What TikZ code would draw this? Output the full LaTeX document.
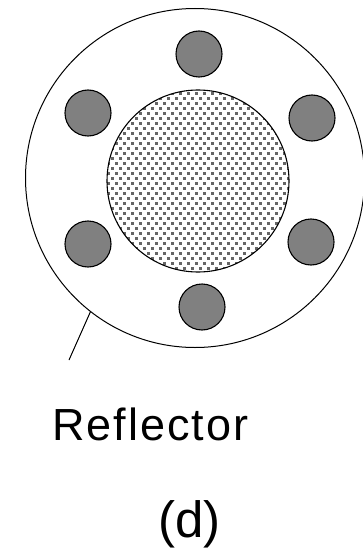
\documentclass[tikz,border=0pt]{standalone}
\usepackage{fontspec}
\setmainfont{Liberation Sans}
\newfontfamily\spacedfont[LetterSpace=4.5]{Liberation Sans}
\tikzset{
  rod/.style={circle,draw=black,fill=black!50,line width=1.1pt,minimum size=46pt,inner sep=0pt},
  ring/.style={circle,draw=black,line width=1pt,minimum size=339pt,inner sep=0pt},
  core/.style={circle,draw=black,line width=1.1pt,minimum size=182pt,inner sep=0pt},
  lbl/.style={inner sep=0pt,text=black}
}
\begin{document}
\begin{tikzpicture}[x=1pt,y=-1pt]
\useasboundingbox (0,0) rectangle (363,559);
\clip (0,0) rectangle (363,559);
\fill[white] (0,0) rectangle (363,559);
\node[ring] (reflector) at (195,178) {};
\begin{scope}
  \clip (198,181) circle[radius=91];
  \foreach \r in {0,...,37}{
    \pgfmathsetmacro{\yy}{88.5+\r*5}
    \pgfmathsetmacro{\off}{mod(\r,2)*4}
    \foreach \c in {0,...,24}{
      \pgfmathsetmacro{\xx}{104.5+\off+\c*8}
      \fill[black!60] (\xx-1.3,\yy-1.3) rectangle (\xx+1.3,\yy+1.3);
    }
  }
\end{scope}
\node[core] (fuel) at (198,181) {};
\node[rod] (r1) at (199,54) {};
\node[rod] (r2) at (88,113) {};
\node[rod] (r3) at (312,118) {};
\node[rod] (r4) at (88,244) {};
\node[rod] (r5) at (311,242) {};
\node[rod] (r6) at (202,307) {};
\coordinate (free) at (69,360);
\draw[line width=1pt] (reflector.232) -- (free);
\node[lbl,anchor=base west] (label) at (52,440) {\fontsize{45}{50}\selectfont\spacedfont Reflector};
\node[lbl,anchor=base] (d) at (189.5,537) {\fontsize{51}{55}\selectfont (d)};
\end{tikzpicture}
\end{document}
